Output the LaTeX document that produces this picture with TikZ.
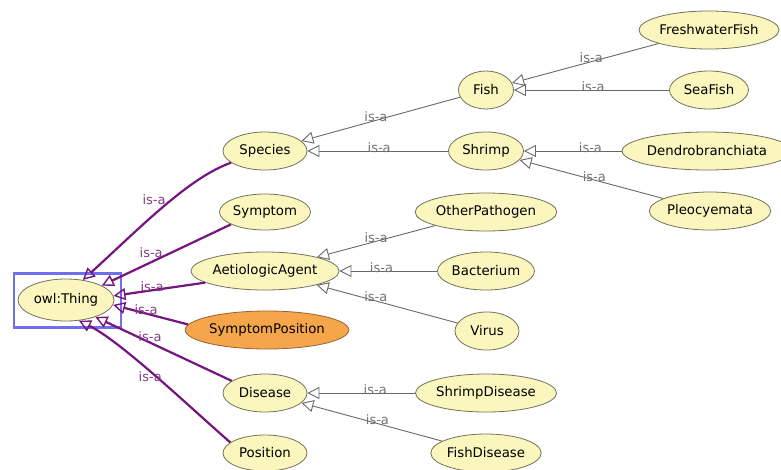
\documentclass[tikz,border=0pt]{standalone}
\usepackage{fontspec}
\setmainfont{DejaVu Sans}
\usetikzlibrary{shapes.geometric,arrows.meta}
\definecolor{nodefill}{RGB}{250,246,190}
\definecolor{nodeborder}{RGB}{115,115,90}
\definecolor{orangefill}{RGB}{245,166,75}
\definecolor{orangeborder}{RGB}{150,100,50}
\definecolor{purp}{RGB}{118,20,128}
\definecolor{purplabel}{RGB}{130,60,130}
\definecolor{greyline}{RGB}{105,105,105}
\definecolor{greylabel}{RGB}{115,115,115}
\definecolor{selblue}{RGB}{112,112,238}
\begin{document}
\begin{tikzpicture}[x=1pt,y=-1pt,
 cls/.style={ellipse, draw=nodeborder, fill=nodefill, line width=0.8pt, minimum height=38pt, inner sep=0pt, font=\fontsize{13.3}{15}\selectfont},
 sub/.style={draw=greyline, line width=0.9pt, -{Triangle[open,length=12pt,width=12pt]}},
 top/.style={draw=purp, line width=2.2pt, -{Triangle[open,length=12pt,width=12pt,line width=1.4pt]}},
 lbl/.style={font=\fontsize{13}{14}\selectfont, text=greylabel, inner sep=0pt, anchor=base, yshift=-1pt},
 plbl/.style={lbl, text=purplabel, yshift=0pt}]
\useasboundingbox (0,0) rectangle (781,469);
\fill[white] (0,0) rectangle (781,469);
% nodes
\node[cls, minimum width=96pt, minimum height=42pt] (thing) at (66,300) {owl:Thing};
\node[draw=selblue, line width=2.6pt, minimum width=107pt, minimum height=54pt, inner sep=0pt] (sel) at (67.5,300.5) {};
\node[cls, minimum width=84pt] (species) at (265,151) {Species};
\node[cls, minimum width=91pt, minimum height=36pt] (symptom) at (265,212) {Symptom};
\node[cls, minimum width=141pt] (aetio) at (265,271) {AetiologicAgent};
\node[cls, fill=orangefill, draw=orangeborder, minimum width=147pt] (sympos) at (267,330) {SymptomPosition};
\node[cls, minimum width=84pt] (disease) at (265,393) {Disease};
\node[cls, minimum width=84pt, minimum height=36pt] (position) at (265,453) {Position};
\node[cls, minimum width=55pt] (fish) at (486,90) {Fish};
\node[cls, minimum width=75pt] (shrimp) at (486,151) {Shrimp};
\node[cls, minimum width=132pt] (fwfish) at (709,30) {FreshwaterFish};
\node[cls, minimum width=79pt] (seafish) at (709,90) {SeaFish};
\node[cls, minimum width=146pt] (dendro) at (707,151) {Dendrobranchiata};
\node[cls, minimum width=119pt] (pleo) at (710,211) {Pleocyemata};
\node[cls, minimum width=135pt] (other) at (486,212) {OtherPathogen};
\node[cls, minimum width=97pt] (bact) at (486,271) {Bacterium};
\node[cls, minimum width=64pt] (virus) at (487,331) {Virus};
\node[cls, minimum width=131pt] (shdis) at (486,393) {ShrimpDisease};
\node[cls, minimum width=109pt] (fidis) at (486,453) {FishDisease};
% grey subclass edges
\draw[sub] (fish) -- node[lbl,pos=0.53]{is-a} (species);
\draw[sub] (shrimp) -- node[lbl,pos=0.49]{is-a} (species);
\draw[sub] (fwfish) -- node[lbl,pos=0.46]{is-a} (fish);
\draw[sub] (seafish) -- node[lbl,pos=0.49]{is-a} (fish);
\draw[sub] (dendro) -- node[lbl,pos=0.32]{is-a} (shrimp);
\draw[sub] (pleo) -- node[lbl,pos=0.48]{is-a} (shrimp);
\draw[sub] (other) -- node[lbl,pos=0.5]{is-a} (aetio);
\draw[sub] (bact) -- node[lbl,pos=0.57]{is-a} (aetio);
\draw[sub] (virus) -- node[lbl,pos=0.58]{is-a} (aetio);
\draw[sub] (shdis) -- node[lbl,pos=0.37]{is-a} (disease);
\draw[sub] (fidis) -- node[lbl,pos=0.46]{is-a} (disease);
% purple edges to owl:Thing
\draw[top] (species.199) .. controls (188,178) and (140,228) .. node[plbl,pos=0.47,anchor=base east]{is-a} (thing.50);
\draw[top] (symptom.200) -- node[plbl,pos=0.52,anchor=base east]{is-a} (thing.22);
\draw[top] (aetio.191) -- node[plbl,pos=0.58]{is-a} (thing.5);
\draw[top] (sympos.176) -- node[plbl,pos=0.56]{is-a} (thing.354);
\draw[top] (disease.160) -- node[plbl,pos=0.6,yshift=2pt]{is-a} (thing.330);
\draw[top] (position.163) .. controls (195,412) and (122,342) .. node[plbl,pos=0.6,anchor=north west,xshift=-3pt,yshift=-6pt]{is-a} (thing.302);
\end{tikzpicture}
\end{document}
